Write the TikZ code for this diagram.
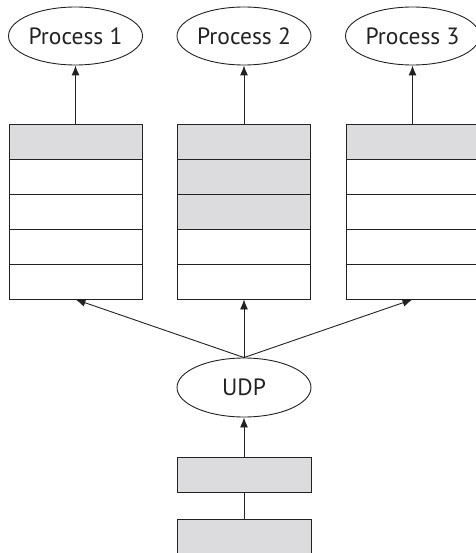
\documentclass[tikz,border=0pt]{standalone}
\usepackage{fontspec}
\setmainfont{PT Sans}
\usetikzlibrary{shapes.geometric,arrows.meta,positioning}
\definecolor{qgray}{HTML}{DCDCDE}
\definecolor{ink}{HTML}{222222}
\begin{document}
\begin{tikzpicture}[x=1pt,y=-1pt,
  conn/.style={draw=ink,line width=0.9pt},
  proc/.style={ellipse,draw=ink,line width=0.9pt,minimum width=134pt,minimum height=58pt,inner sep=0pt,font=\fontsize{23.5}{26}\selectfont,text=ink},
  cell/.style={rectangle,draw=ink,line width=0.9pt,minimum width=133pt,minimum height=35pt,inner sep=0pt,fill=white},
  full/.style={cell,fill=qgray},
  arr/.style={conn,-{Latex[length=10pt,width=8pt]}}]
\useasboundingbox (0,0) rectangle (475,553);
% processes
\node[proc] (p1) at (75.5,36) {Process 1};
\node[proc] (p2) at (244,36) {Process 2};
\node[proc] (p3) at (412.5,36) {Process 3};
% queue 1
\node[full] (a1) at (75.5,141.5) {};
\node[cell] (a2) at (75.5,176.5) {};
\node[cell] (a3) at (75.5,211.5) {};
\node[cell] (a4) at (75.5,246.5) {};
\node[cell] (a5) at (75.5,281.5) {};
% queue 2
\node[full] (b1) at (244,141.5) {};
\node[full] (b2) at (244,176.5) {};
\node[full] (b3) at (244,211.5) {};
\node[cell] (b4) at (244,246.5) {};
\node[cell] (b5) at (244,281.5) {};
% queue 3
\node[full] (c1) at (412.5,141.5) {};
\node[cell] (c2) at (412.5,176.5) {};
\node[cell] (c3) at (412.5,211.5) {};
\node[cell] (c4) at (412.5,246.5) {};
\node[cell] (c5) at (412.5,281.5) {};
% UDP
\node[proc,minimum height=59pt] (udp) at (244,387.5) {UDP};
% lower boxes
\node[full,minimum width=134pt] (d1) at (244,474.5) {};
\node[full,minimum width=134pt] (d2) at (244,537) {};
% connectors
\draw[arr] (a1.north) -- (p1.south);
\draw[arr] (b1.north) -- (p2.south);
\draw[arr] (c1.north) -- (p3.south);
\draw[arr] (udp.north) -- (a5.south);
\draw[arr] (udp.north) -- (b5.south);
\draw[arr] (udp.north) -- (c5.south);
\draw[arr] (d1.north) -- (udp.south);
\draw[conn] (d2.north) -- (d1.south);
\end{tikzpicture}
\end{document}
